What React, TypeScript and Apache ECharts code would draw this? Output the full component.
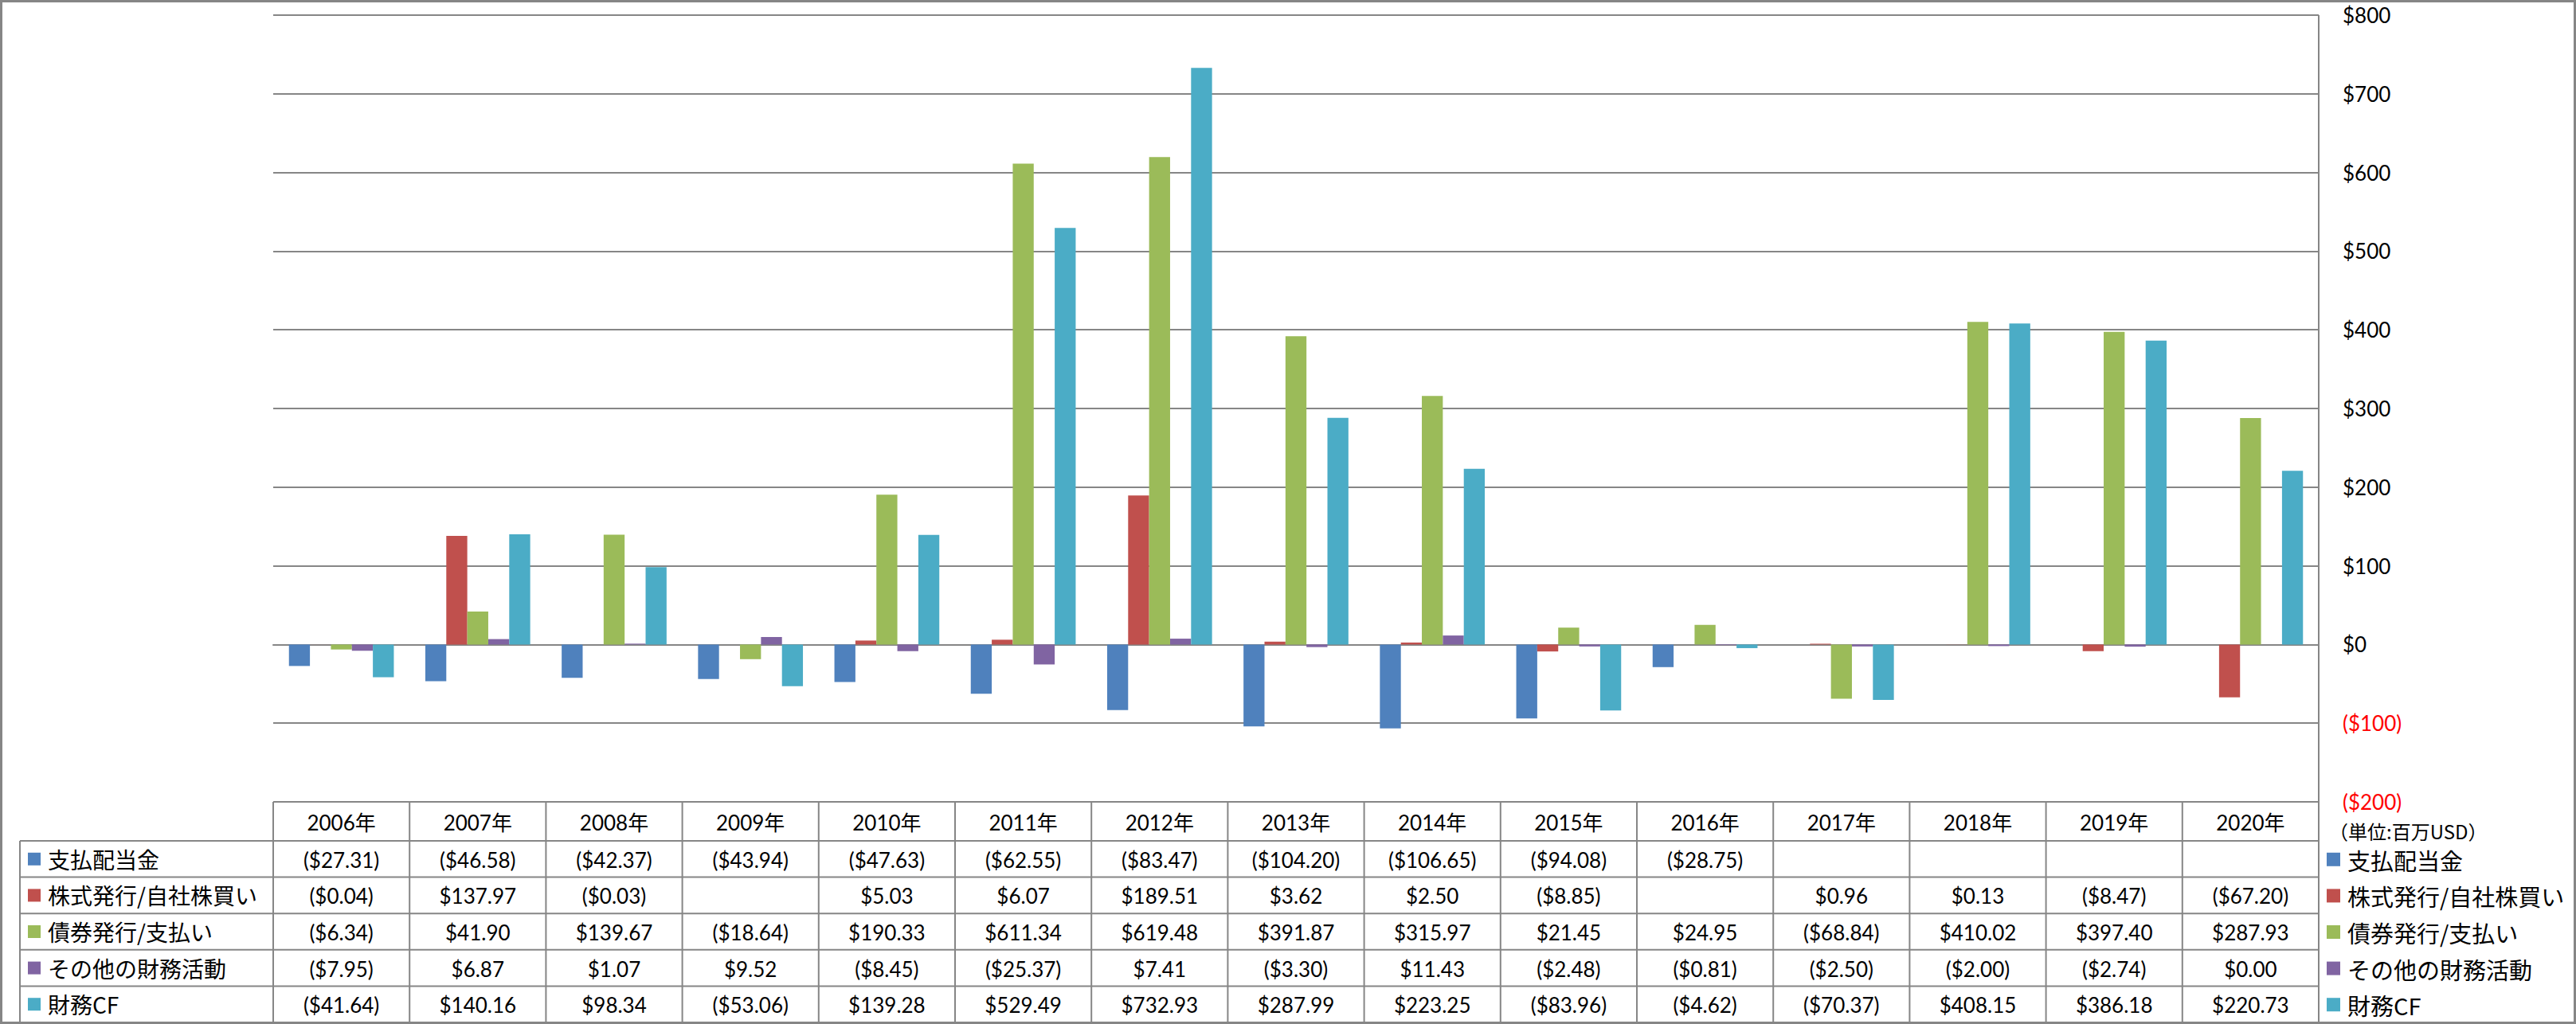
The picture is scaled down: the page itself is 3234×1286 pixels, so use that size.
import React, { useEffect, useRef } from "react";
import * as echarts from "echarts";

// ---------- data ----------
const years = ["2006年", "2007年", "2008年", "2009年", "2010年", "2011年", "2012年", "2013年", "2014年", "2015年", "2016年", "2017年", "2018年", "2019年", "2020年"];
const seriesNames = ["支払配当金", "株式発行/自社株買い", "債券発行/支払い", "その他の財務活動", "財務CF"];
const dividends = [-27.31, -46.58, -42.37, -43.94, -47.63, -62.55, -83.47, -104.2, -106.65, -94.08, -28.75, null, null, null, null];
const equity = [-0.04, 137.97, -0.03, null, 5.03, 6.07, 189.51, 3.62, 2.5, -8.85, null, 0.96, 0.13, -8.47, -67.2];
const debt = [-6.34, 41.9, 139.67, -18.64, 190.33, 611.34, 619.48, 391.87, 315.97, 21.45, 24.95, -68.84, 410.02, 397.4, 287.93];
const otherFin = [-7.95, 6.87, 1.07, 9.52, -8.45, -25.37, 7.41, -3.3, 11.43, -2.48, -0.81, -2.5, -2.0, -2.74, 0.0];
const financingCF = [-41.64, 140.16, 98.34, -53.06, 139.28, 529.49, 732.93, 287.99, 223.25, -83.96, -4.62, -70.37, 408.15, 386.18, 220.73];
const yMin = -200;
const yMax = 800;
const yInterval = 100;
const unitLabel = "（単位:百万USD）";

const allSeries = [dividends, equity, debt, otherFin, financingCF];
const colors = ["#4F81BD", "#C0504D", "#9BBB59", "#8064A2", "#4BACC6"];

// ---------- layout ----------
const W = 3234;
const H = 1286;
const plotLeft = 343;
const plotRight = 2911;
const plotTop = 19;
const plotBottom = 1007;
const tableLeft = 25;
const headerBottom = 1056;
const tableBottom = 1284;
const gray = "#868686";
const numFont = "Lato, 'Noto Sans CJK JP', sans-serif";
const cjkFont = "'Noto Sans CJK JP', sans-serif";

const fmt = (v: number | null) => {
  if (v === null || v === undefined) return "";
  return v < 0 ? `($${(-v).toFixed(2)})` : `$${v.toFixed(2)}`;
};

function buildGraphics() {
  const els: any[] = [];
  const n = years.length;
  const colW = (plotRight - plotLeft) / n;
  const rowH = (tableBottom - headerBottom) / seriesNames.length;
  const line = (x1: number, y1: number, x2: number, y2: number) =>
    els.push({ type: "line", shape: { x1, y1, x2, y2 }, style: { stroke: gray, lineWidth: 2 }, silent: true });

  // outer border
  els.push({ type: "rect", shape: { x: 1.5, y: 1.5, width: W - 3, height: H - 3 }, style: { fill: "none", stroke: gray, lineWidth: 3 }, silent: true });

  // right axis line (plot right edge, continuing as table border)
  line(plotRight, plotTop, plotRight, plotBottom);

  // table horizontal lines
  line(plotLeft, plotBottom, plotRight, plotBottom);
  for (let r = 0; r <= seriesNames.length; r++) {
    const y = headerBottom + r * rowH;
    line(tableLeft, y, plotRight, y);
  }
  // vertical lines
  line(tableLeft, headerBottom, tableLeft, tableBottom);
  for (let c = 0; c <= n; c++) {
    const x = plotLeft + c * colW;
    line(x, plotBottom, x, tableBottom);
  }
  // header
  years.forEach((y, i) => {
    els.push({
      type: "text",
      style: { text: y, x: plotLeft + (i + 0.5) * colW, y: (plotBottom + headerBottom) / 2 + 1, align: "center", verticalAlign: "middle", fontFamily: numFont, fontSize: 26, fill: "#000" },
      silent: true,
    });
  });
  // rows
  seriesNames.forEach((name, r) => {
    const cy = headerBottom + (r + 0.5) * rowH;
    els.push({ type: "rect", shape: { x: 35, y: cy - 8, width: 16, height: 16 }, style: { fill: colors[r] }, silent: true });
    els.push({ type: "text", style: { text: name, x: 60, y: cy, align: "left", verticalAlign: "middle", fontFamily: cjkFont, fontSize: 28, fill: "#000" }, silent: true });
    allSeries[r].forEach((v, i) => {
      els.push({
        type: "text",
        style: { text: fmt(v), x: plotLeft + (i + 0.5) * colW, y: cy + 1, align: "center", verticalAlign: "middle", fontFamily: numFont, fontSize: 26, fill: "#000" },
        silent: true,
      });
    });
    // right legend
    els.push({ type: "rect", shape: { x: 2921, y: cy - 8, width: 17, height: 17 }, style: { fill: colors[r] }, silent: true });
    els.push({ type: "text", style: { text: name, x: 2947, y: cy + 1, align: "left", verticalAlign: "middle", fontFamily: cjkFont, fontSize: 29, fill: "#000" }, silent: true });
  });
  // unit label
  els.push({ type: "text", style: { text: unitLabel, x: 2924, y: 1043, align: "left", verticalAlign: "middle", fontFamily: cjkFont, fontSize: 24, fill: "#000" }, silent: true });
  return els;
}

export default function App() {
  const ref = useRef<HTMLDivElement>(null);
  useEffect(() => {
    document.body.style.margin = "0";
    if (!ref.current) return;
    const chart = echarts.init(ref.current, undefined, { renderer: "svg" });
    const colW = (plotRight - plotLeft) / years.length;
    const barW = colW / 6.5;
    chart.setOption({
      animation: false,
      backgroundColor: "#ffffff",
      grid: { show: false, left: plotLeft, right: W - plotRight, top: plotTop, bottom: H - plotBottom, containLabel: false },
      xAxis: {
        type: "category",
        data: years,
        axisLabel: { show: false },
        axisTick: { show: false },
        axisLine: { show: true, onZero: true, lineStyle: { color: gray, width: 2 } },
        splitLine: { show: false },
        splitArea: { show: false },
      },
      yAxis: {
        type: "value",
        position: "right",
        min: yMin,
        max: yMax,
        interval: yInterval,
        axisLine: { show: false },
        axisTick: { show: false },
        splitLine: { show: true, lineStyle: { color: gray, width: 2 } },
        axisLabel: {
          margin: 30,
          fontFamily: numFont,
          fontSize: 26,
          color: "#000",
          formatter: (v: number) => (v < 0 ? `{neg|($${-v})}` : `$${v}`),
          rich: { neg: { color: "#FF0000", fontFamily: numFont, fontSize: 26 } },
        },
      },
      series: seriesNames.map((name, i) => ({
        name,
        type: "bar",
        data: allSeries[i],
        barWidth: barW,
        barGap: "0%",
        itemStyle: { color: colors[i] },
      })),
      graphic: { elements: buildGraphics() },
    });
    return () => chart.dispose();
  }, []);
  return <div ref={ref} style={{ width: W, height: H, position: "absolute", left: 0, top: 0 }} />;
}
